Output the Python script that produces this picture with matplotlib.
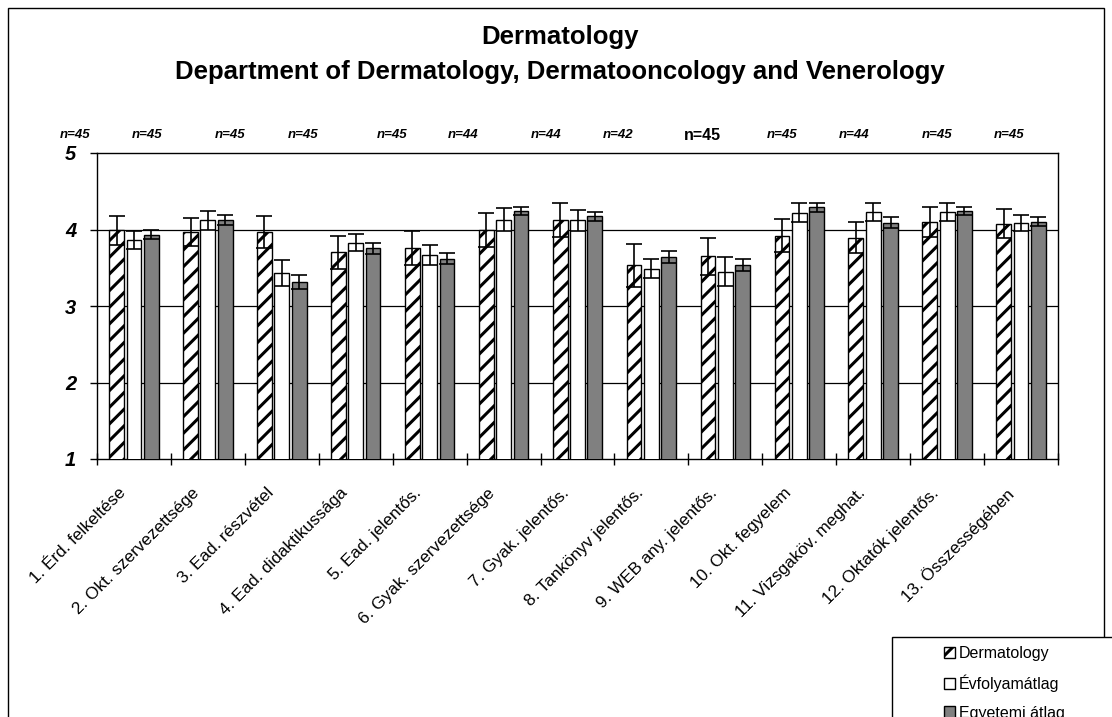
import numpy as np
import matplotlib.pyplot as plt
from matplotlib.patches import Patch, Rectangle
from matplotlib.transforms import ScaledTranslation

plt.rcParams['font.family'] = ['Liberation Sans', 'DejaVu Sans']
plt.rcParams['hatch.linewidth'] = 2.2

categories = ["1. Érd. felkeltése", "2. Okt. szervezettsége", "3. Ead. részvétel",
              "4. Ead. didaktikussága", "5. Ead. jelentős.", "6. Gyak. szervezettsége",
              "7. Gyak. jelentős.", "8. Tankönyv jelentős.", "9. WEB any. jelentős.",
              "10. Okt. fegyelem", "11. Vizsgaköv. meghat.", "12. Oktatók jelentős.",
              "13. Összességében"]
n_labels = ["n=45", "n=45", "n=45", "n=45", "n=45", "n=44", "n=44",
            "n=42", "n=45", "n=45", "n=44", "n=45", "n=45"]

derm = [3.99, 3.965, 3.965, 3.70, 3.76, 3.99, 4.12, 3.53, 3.65, 3.92, 3.895, 4.10, 4.075]
derm_err = [0.19, 0.18, 0.21, 0.21, 0.22, 0.22, 0.22, 0.28, 0.24, 0.22, 0.20, 0.20, 0.19]
evf = [3.86, 4.12, 3.43, 3.83, 3.67, 4.13, 4.12, 3.49, 3.45, 4.22, 4.23, 4.23, 4.09]
evf_err = [0.12, 0.12, 0.175, 0.115, 0.13, 0.15, 0.14, 0.13, 0.19, 0.12, 0.115, 0.115, 0.105]
egy = [3.93, 4.12, 3.31, 3.755, 3.62, 4.24, 4.175, 3.64, 3.54, 4.29, 4.09, 4.245, 4.10]
egy_err = [0.06, 0.065, 0.09, 0.07, 0.07, 0.05, 0.06, 0.08, 0.08, 0.06, 0.07, 0.055, 0.06]

# hand placed n= labels, pixel x positions
n_x_px = [75, 147, 230, 303, 392, 463, 546, 618, 702, 782, 854, 937, 1009]

W, H = 1112, 717
fig = plt.figure(figsize=(W / 100, H / 100), dpi=100)
ax = fig.add_axes([97 / W, 1 - 459 / H, (1058 - 97) / W, (459 - 153) / H])

x = np.arange(len(categories))
bw = 0.2
step = 0.235

ax.bar(x - step, derm, bw, color='white', edgecolor='black',
       hatch='//', linewidth=1, zorder=3)
ax.bar(x, evf, bw, color='white', edgecolor='black', linewidth=1, zorder=3)
ax.bar(x + step, egy, bw, color='#808080', edgecolor='black', linewidth=1, zorder=3)

for off, v, e in [(-step, derm, derm_err), (0, evf, evf_err), (step, egy, egy_err)]:
    ax.errorbar(x + off, v, yerr=e, fmt='none', ecolor='black', elinewidth=1.2,
                capsize=6, capthick=1.2, zorder=4)

ax.set_xlim(-0.5, len(categories) - 0.5)
ax.set_ylim(1, 5)
ax.set_yticks([1, 2, 3, 4, 5])
ax.set_yticklabels(['1', '2', '3', '4', '5'], fontsize=14.5, fontweight='bold', style='italic')
ax.tick_params(axis='y', length=5, width=1, pad=10)
for yv in [2, 3, 4]:
    ax.axhline(yv, color='black', linewidth=0.9, zorder=1)

ax.set_xticks(np.arange(len(categories) + 1) - 0.5, minor=True)
ax.set_xticks(x)
ax.tick_params(axis='x', which='minor', direction='inout', length=9, width=1)
ax.tick_params(axis='x', which='major', length=0, pad=19)
ax.set_xticklabels(categories, rotation=45, ha='right', va='top',
                   rotation_mode='anchor', fontsize=12.3)
shift = ScaledTranslation(-0.16, 0, fig.dpi_scale_trans)
for lab in ax.get_xticklabels():
    lab.set_transform(lab.get_transform() + shift)

for s in ax.spines.values():
    s.set_linewidth(1)
    s.set_color('black')

# n= labels above the plot
for i, (txt, px) in enumerate(zip(n_labels, n_x_px)):
    if i == 8:
        fig.text(px / W, 1 - 136 / H, txt, ha='center', va='center',
                 fontsize=11.5, fontweight='bold')
    else:
        fig.text(px / W, 1 - 135 / H, txt, ha='center', va='center',
                 fontsize=9.5, fontweight='bold', style='italic')

fig.text(560 / W, 1 - 37 / H, "Dermatology", ha='center', va='center',
         fontsize=18.5, fontweight='bold')
fig.text(560 / W, 1 - 72 / H, "Department of Dermatology, Dermatooncology and Venerology",
         ha='center', va='center', fontsize=18.5, fontweight='bold')

# outer frame and legend frame
fig.patches.append(Rectangle((8 / W, -0.1), (1104 - 8) / W, 1.1 - 8 / H,
                             transform=fig.transFigure, fill=False,
                             edgecolor='black', linewidth=1))
fig.patches.append(Rectangle((892 / W, -0.1), 0.3, 0.1 + 1 - 637 / H,
                             transform=fig.transFigure, facecolor='white',
                             edgecolor='black', linewidth=1))

handles = [Patch(facecolor='white', edgecolor='black', hatch='//', linewidth=1),
           Patch(facecolor='white', edgecolor='black', linewidth=1),
           Patch(facecolor='#808080', edgecolor='black', linewidth=1)]
fig.legend(handles, ["Dermatology", "Évfolyamátlag", "Egyetemi átlag"],
           loc='upper left', bbox_to_anchor=(944 / W, 1 - 646 / H),
           frameon=False, fontsize=11.5, handlelength=0.7, handleheight=0.7,
           handletextpad=0.25, labelspacing=0.85, borderpad=0, borderaxespad=0)

fig.savefig("out.png", dpi=100)
